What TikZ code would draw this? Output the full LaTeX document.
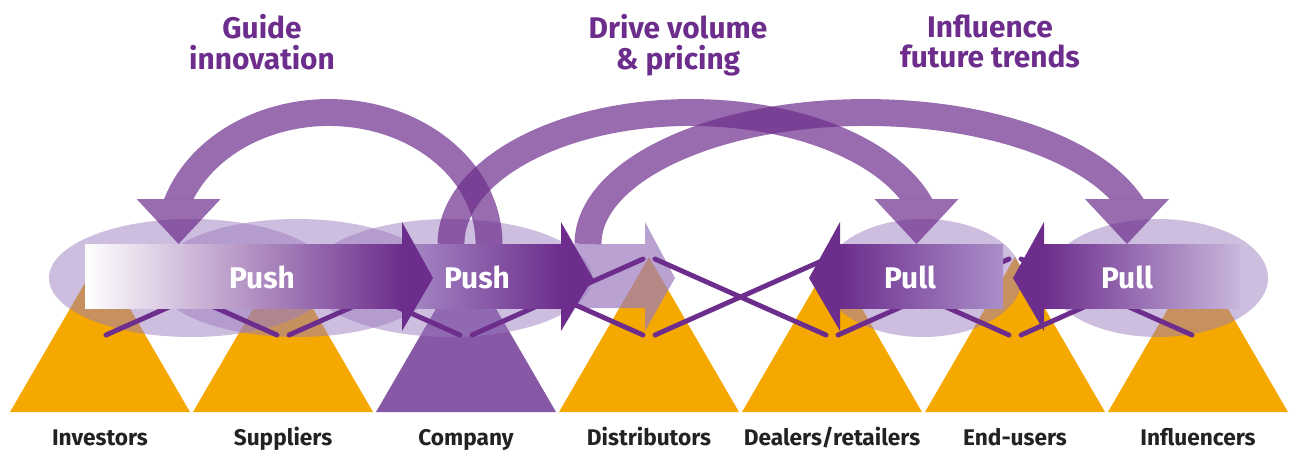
\documentclass[tikz,border=0pt]{standalone}
\usepackage{fontspec}
\setmainfont{Fira Sans}

\definecolor{grape}{RGB}{108,45,140}
\definecolor{haze}{RGB}{155,123,191}
\definecolor{amber}{RGB}{245,168,0}
\definecolor{plum}{RGB}{135,88,165}
\definecolor{ink}{RGB}{34,34,34}

\tikzset{
  band/.style={draw=grape, draw opacity=.7, line width=15.3pt},
  bandhead/.style={fill=grape, fill opacity=.7},
  halo/.style={fill=haze, fill opacity=.5},
  link/.style={draw=grape, line width=2.8pt, line cap=round},
  actor/.style={font=\fontsize{12.9}{14}\selectfont\bfseries, text=ink, anchor=base},
  motto/.style={font=\fontsize{17}{17.6}\selectfont\bfseries, text=grape, align=center, anchor=north, inner sep=0pt},
  flowtext/.style={font=\fontsize{17}{17}\selectfont\bfseries, text=white, anchor=base},
}

\begin{document}
\begin{tikzpicture}[x=0.02cm, y=-0.02cm]
    \useasboundingbox (0,0) rectangle (1294,450);

    % triangles, labels and link points
    \foreach \id/\cx/\col/\lbl in {inv/100/amber/Investors, sup/283/amber/Suppliers,
        com/466/plum/Company, dis/649/amber/Distributors, dea/832/amber/{Dealers/retailers},
        end/1015/amber/End-users, inf/1198/amber/Influencers}
    {
        \fill[\col] (\cx,257) -- (\cx+90,412) -- (\cx-90,412) -- cycle;
        \node[actor] (\id-lbl) at (\cx,445) {\lbl};
        \coordinate (\id-tl) at (\cx-6,259);
        \coordinate (\id-tr) at (\cx+6,259);
        \coordinate (\id-bl) at (\cx-6,335);
        \coordinate (\id-br) at (\cx+6,335);
    }

    % ellipses
    \foreach \cx/\rx in {191/142, 297/142, 450/142, 923/99, 1158/110}
        \fill[halo] (\cx,278) ellipse [x radius=\rx, y radius=59];

    % faded push towards distributors
    \fill[haze, fill opacity=.7] (565,244) -- (645,244) -- (645,222) -- (675,278)
        -- (645,331) -- (645,308) -- (565,308) -- cycle;

    % links between neighbours
    \foreach \a/\b in {inv/sup, sup/com, com/dis, dis/dea, dea/end, end/inf}
    {
        \draw[link] (\a-tr) -- (\b-bl);
        \draw[link] (\a-br) -- (\b-tl);
    }

    % feedback arcs
    \coordinate (guide-foot) at (489,244);
    \coordinate (drive-foot) at (451,244);
    \coordinate (trend-foot) at (588,244);
    \begin{scope}
        \clip (0,80) -- (1294,80) -- (1294,250) -- (1190,250) -- (1190,199) -- (1070,199)
            -- (1070,250) -- (975,250) -- (975,199) -- (860,199) -- (860,250) -- (240,250)
            -- (240,199) -- (120,199) -- (120,250) -- (0,250) -- cycle;
        \draw[band] (guide-foot) arc [start angle=0, end angle=-166, x radius=160, y radius=131.5];
        \draw[band] (drive-foot) arc [start angle=-180, end angle=-14, x radius=240, y radius=131.5];
        \draw[band] (trend-foot) arc [start angle=-180, end angle=-14, x radius=278, y radius=131.5];
    \end{scope}
    \foreach \x in {178.6, 916.5, 1127}
        \fill[bandhead] (\x-42,199) -- (\x+42,199) -- (\x,244) -- cycle;

    % push arrows
    \shade[left color=haze!85, right color=grape] (395,244) rectangle (562,308);
    \shade[left color=white, right color=grape] (85,244) rectangle (403,308);
    \fill[grape] (402,222) -- (433,278) -- (402,331) -- cycle;
    \fill[grape] (561,222) -- (593,278) -- (561,331) -- cycle;
    \node[flowtext] (push-a) at (262,288) {Push};
    \node[flowtext] (push-b) at (477,288) {Push};

    % pull arrows
    \shade[left color=grape, right color=haze!85] (839,244) rectangle (1003,308);
    \fill[grape] (840,222) -- (809,278) -- (840,331) -- cycle;
    \shade[left color=grape, right color=haze!55] (1043,244) rectangle (1240,308);
    \fill[grape] (1044,222) -- (1013,278) -- (1044,331) -- cycle;
    \node[flowtext] (pull-a) at (910,288) {Pull};
    \node[flowtext] (pull-b) at (1127,288) {Pull};

    % headings
    \node[motto] (guide) at (262,14) {Guide\\innovation};
    \node[motto] (drive) at (678,14) {Drive volume\\\& pricing};
    \node[motto] (trend) at (990,14) {Influence\\future trends};
\end{tikzpicture}
\end{document}
